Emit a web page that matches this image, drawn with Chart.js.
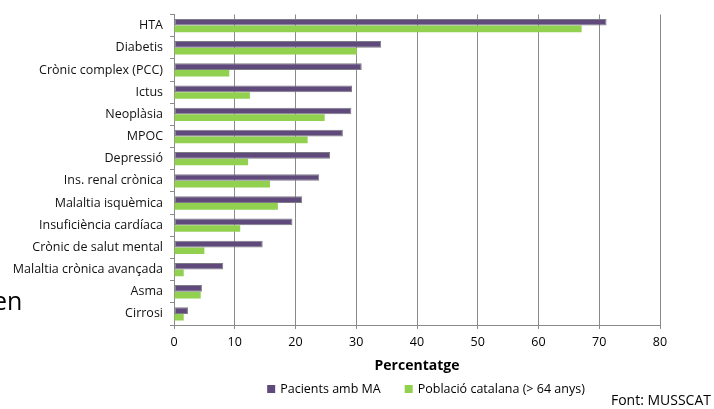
<!DOCTYPE html>
<html>
<head>
<meta charset="utf-8">
<script src="https://cdn.jsdelivr.net/npm/chart.js@4/dist/chart.umd.min.js"></script>
<style>
  html, body { margin: 0; padding: 0; background: #fff; }
  #wrap { position: relative; width: 714px; height: 409px; }
</style>
</head>
<body>
<div id="wrap"><canvas id="chart" width="714" height="409"></canvas></div>
<script>
// Prevalences (%) per condition
const categories = [
    'HTA', 'Diabetis', 'Crònic complex (PCC)', 'Ictus', 'Neoplàsia', 'MPOC',
    'Depressió', 'Ins. renal crònica', 'Malaltia isquèmica', 'Insuficiència cardíaca',
    'Crònic de salut mental', 'Malaltia crònica avançada', 'Asma', 'Cirrosi'
];
const pacientsMA = [71.2, 34.1, 30.9, 29.3, 29.2, 27.8, 25.7, 23.9, 21.1, 19.5, 14.6, 8.1, 4.6, 2.3];
const poblacioCatalana = [67.1, 30.1, 9.1, 12.5, 24.8, 22.0, 12.2, 15.8, 17.1, 10.9, 5.0, 1.6, 4.4, 1.6];
const xTickValues = [0, 10, 20, 30, 40, 50, 60, 70, 80];

const FONT = '"Open Sans", "Liberation Sans", sans-serif';
const GRID = '#8a8a8a';

// Legend and side notes drawn straight onto the canvas
const extrasPlugin = {
    id: 'extras',
    afterDraw(chart) {
        const ctx = chart.ctx;
        ctx.save();
        ctx.font = '12.5px ' + FONT;
        ctx.textBaseline = 'middle';
        ctx.textAlign = 'left';

        const box = 8, gapText = 5, gapItem = 24;
        const items = chart.data.datasets.map(ds => ({
            label: ds.label,
            color: ds.backgroundColor,
            w: box + gapText + ctx.measureText(ds.label).width
        }));
        const total = items.reduce((s, it) => s + it.w, 0) + gapItem * (items.length - 1);
        let x = 426 - total / 2;
        const y = 389;
        items.forEach(it => {
            ctx.fillStyle = it.color;
            ctx.fillRect(x, y - box / 2, box, box);
            ctx.fillStyle = '#000';
            ctx.fillText(it.label, x + box + gapText, y);
            x += it.w + gapItem;
        });

        ctx.font = '14px ' + FONT;
        ctx.textAlign = 'right';
        ctx.fillText('Font: MUSSCAT', 711, 401);

        ctx.font = '25px ' + FONT;
        ctx.textAlign = 'left';
        ctx.textBaseline = 'alphabetic';
        ctx.fillText('en', -7, 310);
        ctx.restore();
    }
};

const chart = new Chart(document.getElementById('chart').getContext('2d'), {
    type: 'bar',
    data: {
        labels: categories,
        datasets: [
            {
                label: 'Pacients amb MA',
                data: pacientsMA,
                backgroundColor: '#5f4a7b',
                borderColor: '#7d7d85',
                borderWidth: 1,
                borderSkipped: false,
                categoryPercentage: 0.6,
                barPercentage: 1.0
            },
            {
                label: 'Població catalana (> 64 anys)',
                data: poblacioCatalana,
                backgroundColor: '#92d050',
                borderWidth: 0,
                categoryPercentage: 0.6,
                barPercentage: 1.0
            }
        ]
    },
    options: {
        indexAxis: 'y',
        responsive: false,
        animation: false,
        layout: { padding: { left: 0, top: 11, right: 54, bottom: 35 } },
        plugins: {
            legend: { display: false },
            tooltip: { enabled: false }
        },
        scales: {
            x: {
                min: 0,
                max: 80,
                afterBuildTicks: scale => { scale.ticks = xTickValues.map(v => ({ value: v })); },
                afterFit: scale => { scale.height = 49; },
                grid: { color: GRID, tickLength: 4, lineWidth: 1 },
                border: { color: GRID },
                ticks: { color: '#000', padding: 6, font: { family: FONT, size: 12.5 } },
                title: {
                    display: true,
                    text: 'Percentatge',
                    color: '#000',
                    padding: { top: 0, bottom: 0 },
                    font: { family: FONT, size: 14, weight: 'bold' }
                }
            },
            y: {
                afterFit: scale => { scale.width = 174; },
                grid: { drawOnChartArea: false, color: GRID, tickLength: 4 },
                border: { color: GRID },
                ticks: { color: '#111', padding: 7, font: { family: FONT, size: 12.5 } }
            }
        }
    },
    plugins: [extrasPlugin]
});
</script>
</body>
</html>
